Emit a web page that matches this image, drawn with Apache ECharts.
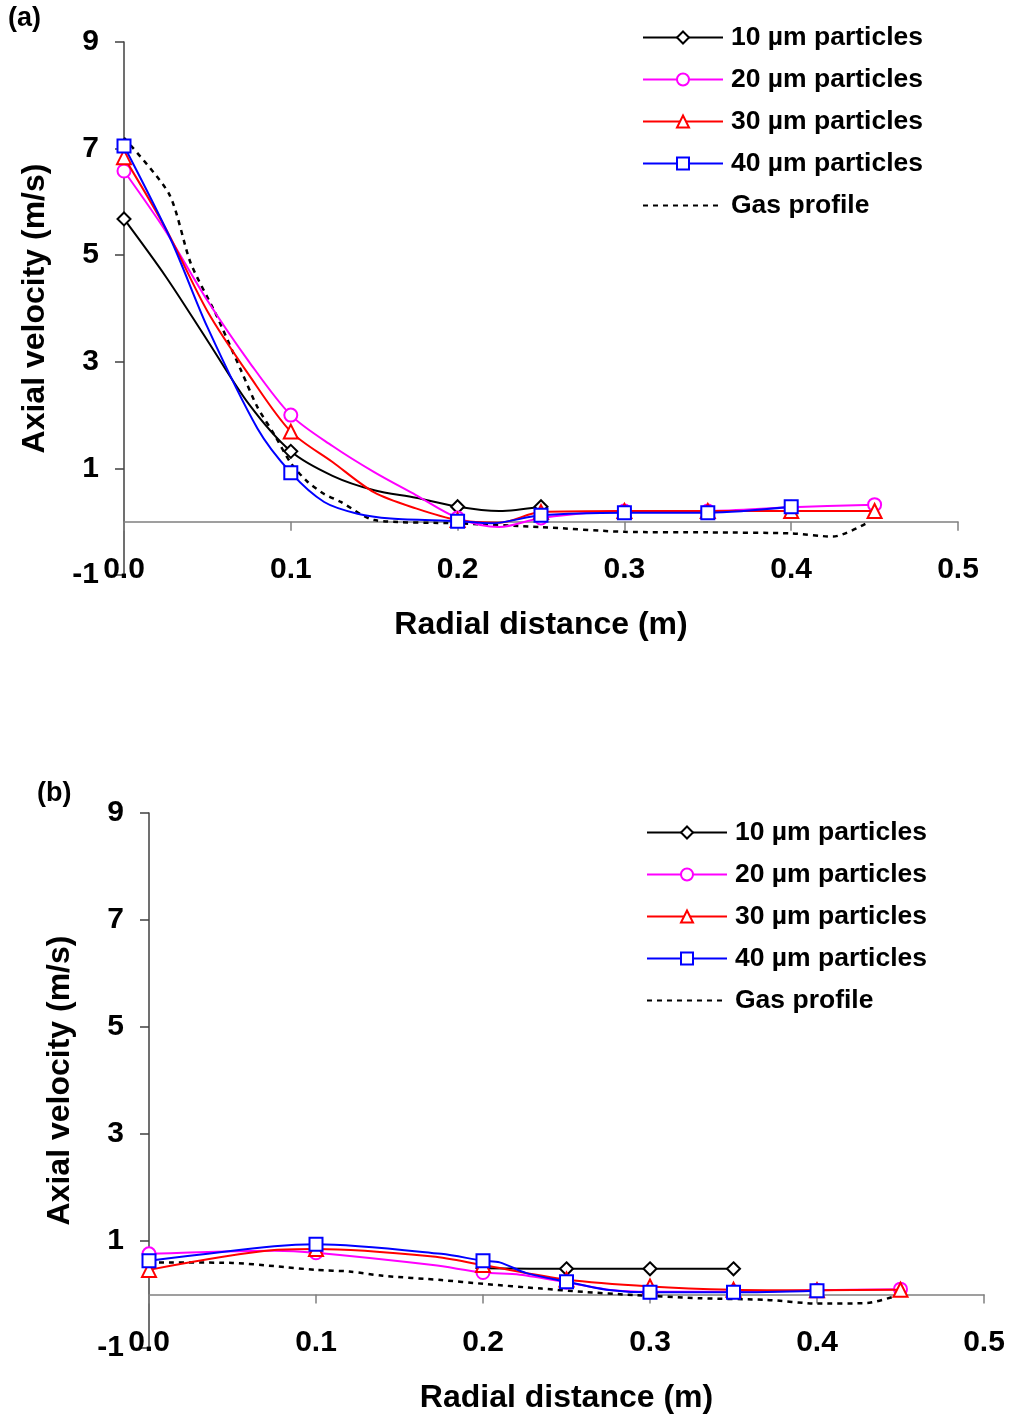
<!DOCTYPE html>
<html>
<head>
<meta charset="utf-8">
<script src="https://cdn.jsdelivr.net/npm/echarts@6/dist/echarts.min.js"></script>
<style>
html,body{margin:0;padding:0;background:#fff;}
#chart{width:1011px;height:1420px;}
</style>
</head>
<body>
<div id="chart"></div>
<script>
// ---- data ----
const seriesNames = ['10 µm particles', '20 µm particles', '30 µm particles', '40 µm particles', 'Gas profile'];
const xTicks = [0, 0.1, 0.2, 0.3, 0.4, 0.5];
const markX = [0, 0.1, 0.2, 0.25, 0.3, 0.35, 0.4, 0.45];

// panel (a)
const a10x = [0, 0.025, 0.05, 0.075, 0.1, 0.125, 0.15, 0.175, 0.2, 0.225, 0.25];
const a10y = [5.68, 4.6, 3.4, 2.2, 1.32, 0.86, 0.59, 0.45, 0.28, 0.2, 0.28];
const a20x = [0, 0.025, 0.05, 0.075, 0.1, 0.125, 0.15, 0.175, 0.2, 0.225, 0.25, 0.3, 0.35, 0.4, 0.45];
const a20y = [6.58, 5.45, 4.15, 3.0, 2.0, 1.42, 0.93, 0.5, 0.07, -0.1, 0.07, 0.2, 0.2, 0.27, 0.32];
const a30x = [0, 0.025, 0.05, 0.075, 0.1, 0.125, 0.15, 0.175, 0.2, 0.225, 0.25, 0.3, 0.35, 0.4, 0.45];
const a30y = [6.84, 5.5, 3.95, 2.75, 1.69, 1.12, 0.55, 0.25, 0.03, -0.02, 0.18, 0.2, 0.2, 0.2, 0.2];
const a40x = [0, 0.028, 0.05, 0.08, 0.1, 0.12, 0.14, 0.16, 0.2, 0.22, 0.25, 0.3, 0.35, 0.4];
const a40y = [7.05, 5.3, 3.65, 1.75, 0.92, 0.37, 0.15, 0.06, 0.01, -0.03, 0.12, 0.17, 0.17, 0.28];
const aGx = [0, 0.027, 0.04, 0.055, 0.07, 0.08, 0.09, 0.1, 0.11, 0.12, 0.13, 0.15, 0.2, 0.25, 0.3, 0.35, 0.4, 0.425, 0.447];
const aGy = [7.2, 6.15, 4.85, 3.9, 2.85, 2.15, 1.64, 1.1, 0.75, 0.52, 0.37, 0.03, -0.03, -0.1, -0.19, -0.2, -0.22, -0.28, 0.0];

// panel (b)
const b10x = [0.2, 0.25, 0.3, 0.35];
const b10y = [0.49, 0.48, 0.48, 0.48];
const b20x = [0, 0.075, 0.1, 0.17, 0.2, 0.222, 0.25, 0.275, 0.3, 0.35, 0.4, 0.45];
const b20y = [0.76, 0.82, 0.78, 0.55, 0.41, 0.37, 0.23, 0.09, 0.05, 0.05, 0.08, 0.1];
const b30x = [0, 0.075, 0.1, 0.17, 0.2, 0.25, 0.3, 0.35, 0.4, 0.45];
const b30y = [0.46, 0.83, 0.85, 0.71, 0.55, 0.28, 0.15, 0.09, 0.08, 0.09];
const b40x = [0, 0.075, 0.1, 0.175, 0.2, 0.21, 0.226, 0.25, 0.274, 0.3, 0.35, 0.4];
const b40y = [0.63, 0.9, 0.94, 0.76, 0.63, 0.6, 0.4, 0.24, 0.09, 0.04, 0.04, 0.07];
const bGx = [0, 0.05, 0.075, 0.1, 0.12, 0.14, 0.175, 0.2, 0.235, 0.26, 0.29, 0.33, 0.37, 0.4, 0.43, 0.447];
const bGy = [0.6, 0.59, 0.53, 0.46, 0.43, 0.35, 0.27, 0.2, 0.11, 0.05, -0.01, -0.07, -0.1, -0.17, -0.16, -0.03];

// ---- build ----
const FONT = "'Liberation Sans', Arial, sans-serif";
const colors = ['#000000', '#FF00FF', '#FF0000', '#0000FF', '#000000'];
const symbols = ['emptyDiamond', 'emptyCircle', 'emptyTriangle', 'emptyRect', 'none'];
const symSizes = [13, 13, 14, 13, 0];

function isMarked(x) { return markX.some(m => Math.abs(m - x) < 1e-9); }
function pts(xs, ys, withMarks) {
  return xs.map((x, i) => {
    const item = { value: [x, ys[i]] };
    if (!withMarks || !isMarked(x)) item.symbol = 'none';
    return item;
  });
}

const panels = [
  [[a10x, a10y], [a20x, a20y], [a30x, a30y], [a40x, a40y], [aGx, aGy]],
  [[b10x, b10y], [b20x, b20y], [b30x, b30y], [b40x, b40y], [bGx, bGy]]
];

const series = [];
panels.forEach((p, gi) => {
  p.forEach((d, si) => {
    const gas = si === 4;
    series.push({
      type: 'line',
      name: seriesNames[si],
      xAxisIndex: gi * 2 + 1,
      yAxisIndex: gi,
      data: pts(d[0], d[1], !gas),
      smooth: gas ? 0.25 : 0.3,
      symbol: symbols[si],
      symbolSize: symSizes[si],
      showAllSymbol: true,
      lineStyle: gas ? { color: '#000', width: 2.5, type: [5, 5] } : { color: colors[si], width: 2 },
      itemStyle: { color: colors[si], borderColor: colors[si], borderWidth: 2 },
      z: gas ? 2 : 3 + si,
      silent: true
    });
  });
});

const grids = [
  { left: 124, top: 42, width: 834, height: 533, outerBoundsMode: 'none' },
  { left: 149, top: 813, width: 835, height: 535, outerBoundsMode: 'none' }
];

const xAxes = [];
const yAxes = [];
grids.forEach((g, gi) => {
  // label axis at bottom (Excel "low" labels)
  xAxes.push({
    type: 'value', gridIndex: gi, min: xTicks[0], max: xTicks[xTicks.length - 1], interval: 0.1,
    position: 'bottom', offset: -22,
    axisLine: { show: false, onZero: false }, axisTick: { show: false }, splitLine: { show: false },
    axisLabel: { margin: 2, fontSize: 30, fontWeight: 'bold', color: '#000', fontFamily: FONT,
      formatter: v => v.toFixed(1) },
    name: 'Radial distance (m)', nameLocation: 'middle', nameGap: 56,
    nameTextStyle: { fontSize: 32, fontWeight: 'bold', color: '#000', fontFamily: FONT }
  });
  // line axis crossing at y = 0
  xAxes.push({
    type: 'value', gridIndex: gi, min: xTicks[0], max: xTicks[xTicks.length - 1], interval: 0.1,
    position: 'bottom',
    axisLine: { show: true, onZero: true, lineStyle: { color: '#808080', width: 1.5 } },
    axisTick: { show: true, length: 9, inside: false, lineStyle: { color: '#808080', width: 1.5 } },
    axisLabel: { show: false }, splitLine: { show: false }
  });
  yAxes.push({
    type: 'value', gridIndex: gi, min: -1, max: 9, interval: 2, position: 'left',
    axisLine: { show: true, onZero: false, lineStyle: { color: '#404040', width: 1.5 } },
    axisTick: { show: true, length: 9, lineStyle: { color: '#404040', width: 1.5 } },
    splitLine: { show: false },
    axisLabel: { margin: 25, fontSize: 30, fontWeight: 'bold', color: '#000', fontFamily: FONT },
    name: 'Axial velocity (m/s)', nameLocation: 'middle', nameGap: 73, nameRotate: 90,
    nameTextStyle: { fontSize: 32, fontWeight: 'bold', color: '#000', fontFamily: FONT }
  });
});

const legendData = seriesNames.map((n, i) => i === 4
  ? { name: n, itemStyle: { color: 'rgba(0,0,0,0)', borderColor: 'rgba(0,0,0,0)', opacity: 0 } }
  : { name: n });

const legendBase = {
  orient: 'vertical', itemWidth: 80, itemHeight: 15, itemGap: 15, padding: 0,
  data: legendData, selectedMode: false,
  textStyle: { fontSize: 26.5, fontWeight: 'bold', color: '#000', fontFamily: FONT, lineHeight: 26, padding: [0, 0, 0, 3] }
};

const option = {
  animation: false,
  backgroundColor: '#fff',
  grid: grids,
  xAxis: xAxes,
  yAxis: yAxes,
  legend: [
    Object.assign({}, legendBase, { left: 642, top: 24 }),
    Object.assign({}, legendBase, { left: 646, top: 819 })
  ],
  graphic: [
    { type: 'text', left: 8, top: 5, style: { text: '(a)', fontSize: 27, fontWeight: 'bold', fill: '#000', fontFamily: FONT } },
    { type: 'text', left: 37, top: 780, style: { text: '(b)', fontSize: 27, fontWeight: 'bold', fill: '#000', fontFamily: FONT } }
  ],
  series: series
};

const chart = echarts.init(document.getElementById('chart'), null, { renderer: 'canvas' });
chart.setOption(option);
</script>
</body>
</html>
